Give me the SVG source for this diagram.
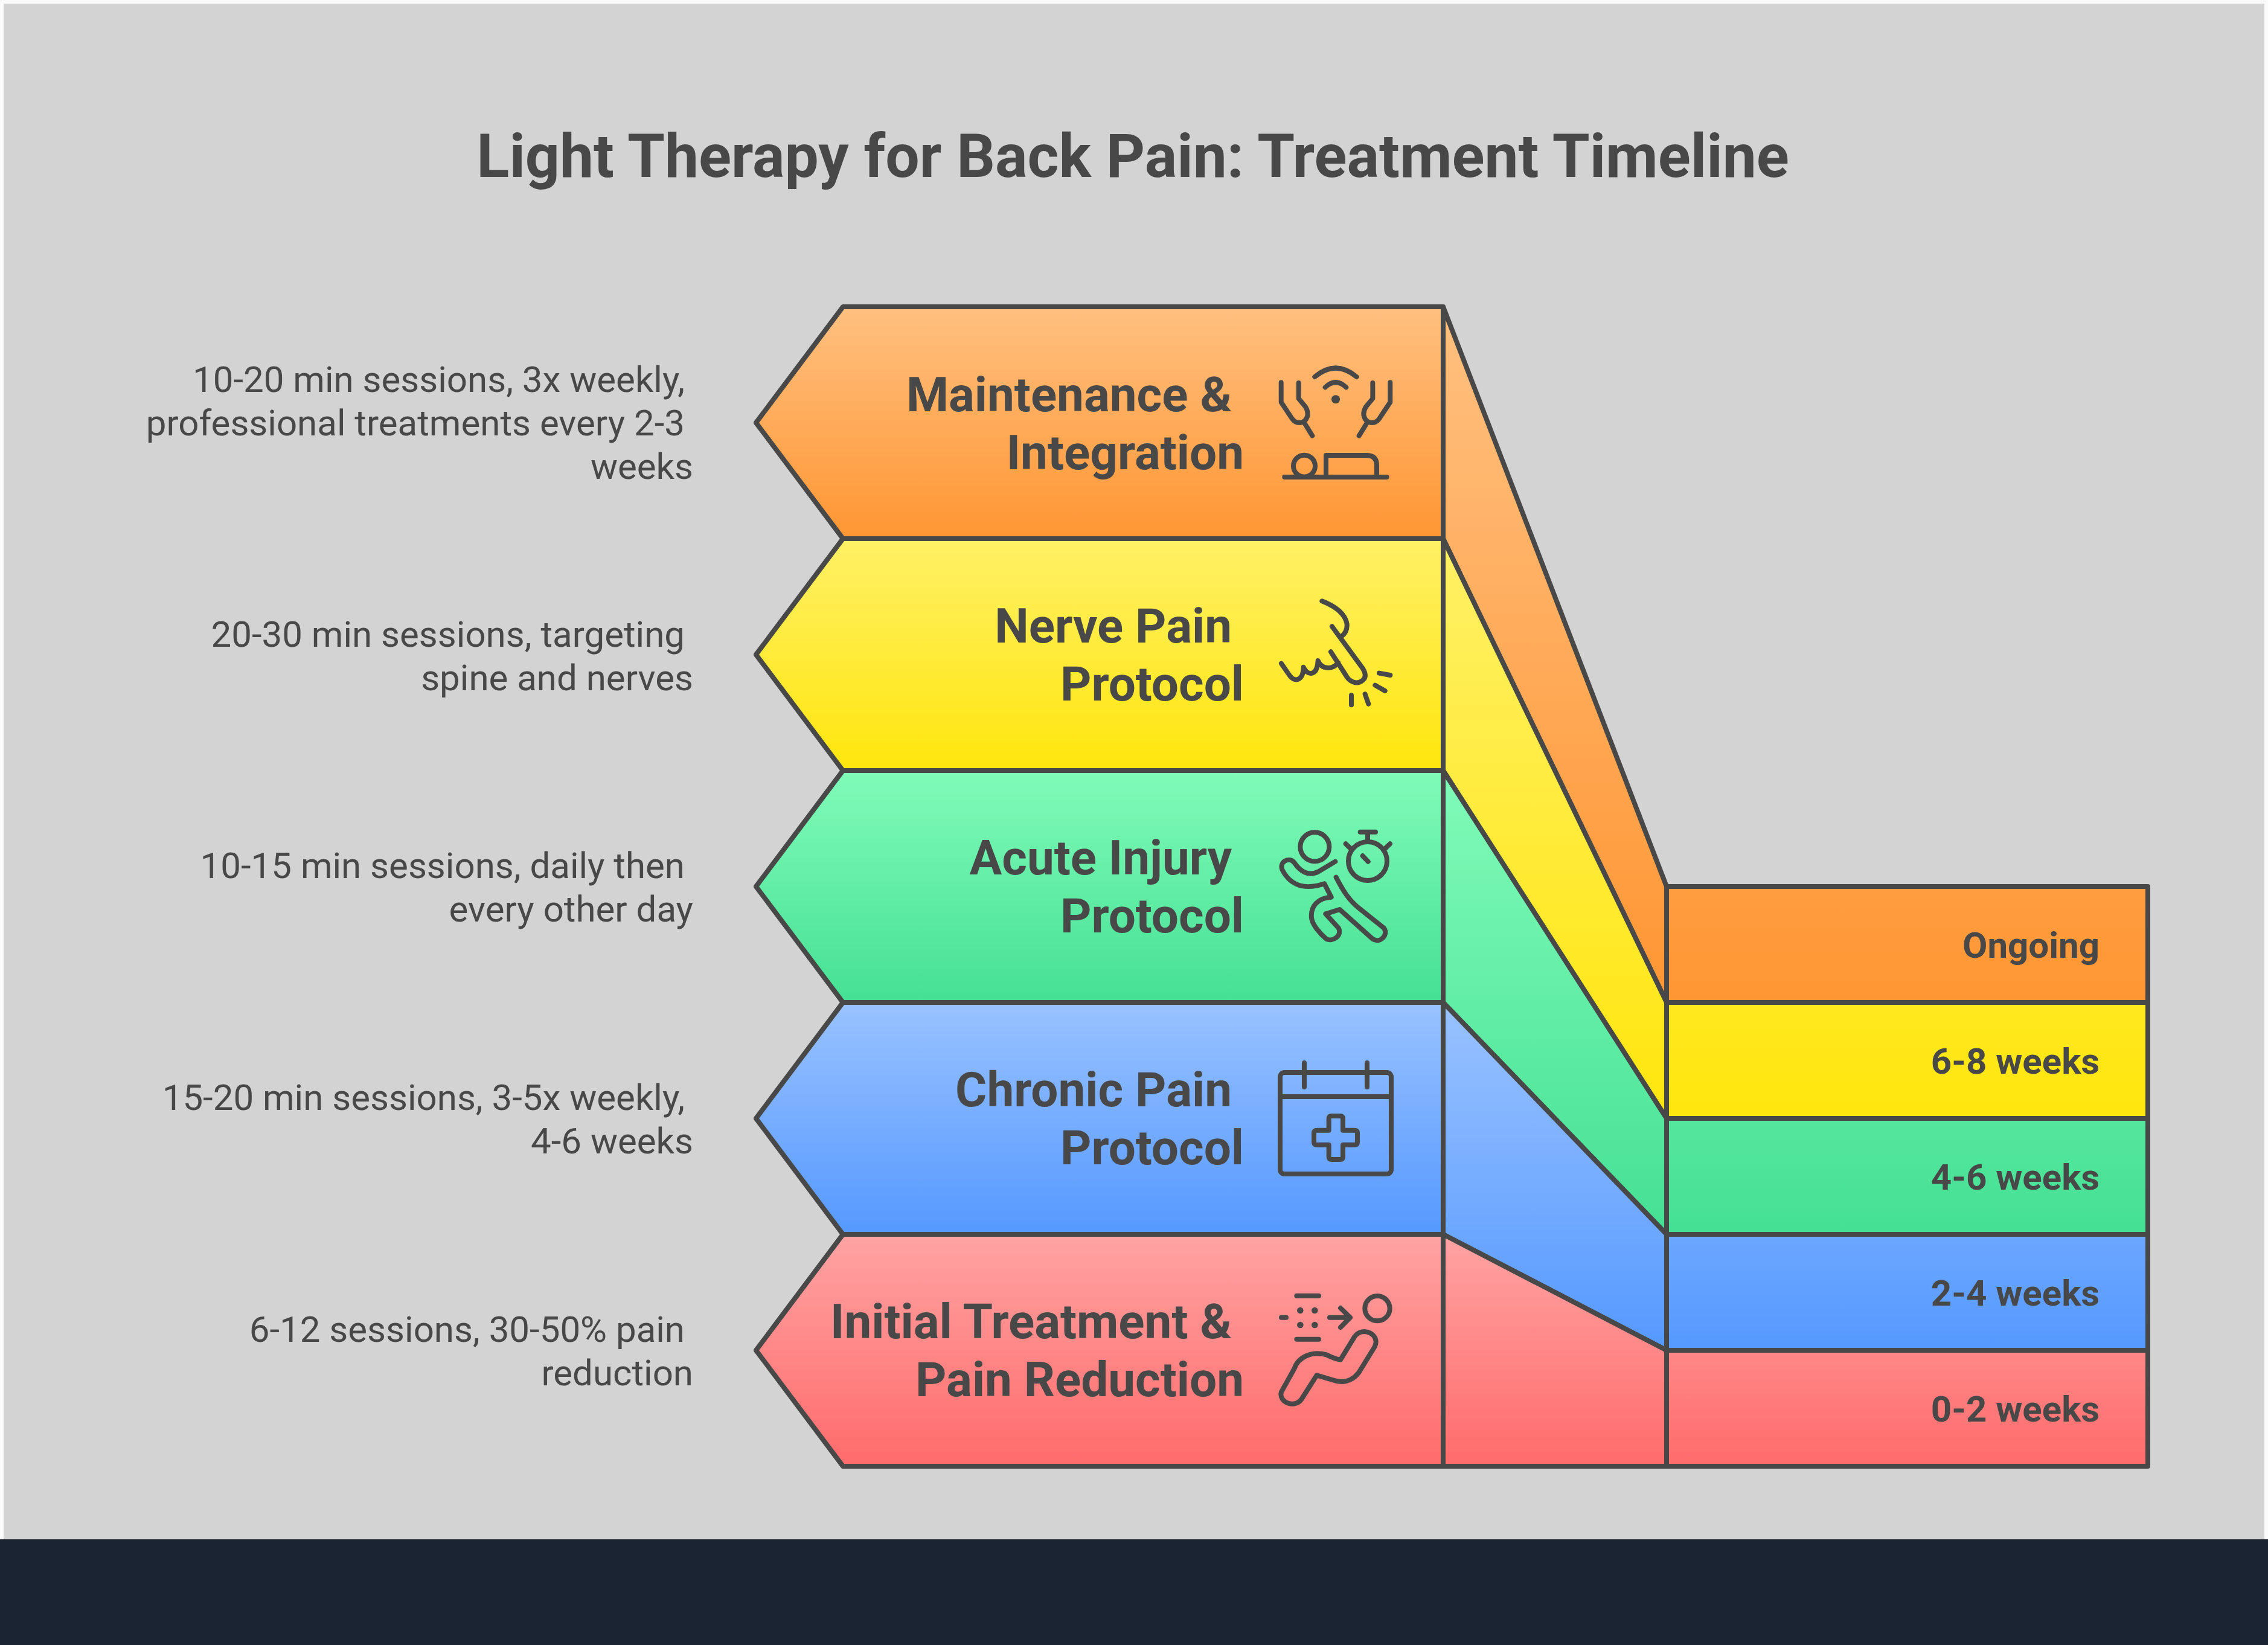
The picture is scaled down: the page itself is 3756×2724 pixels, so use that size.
<svg xmlns="http://www.w3.org/2000/svg" width="3756" height="2724" viewBox="0 0 3756 2724">
<defs>
<style>
.ln{stroke:#484848;stroke-width:8;stroke-linejoin:round;stroke-linecap:round}
.ic{fill:none;stroke:#484848;stroke-width:24;stroke-linecap:round;stroke-linejoin:round}
.dot{fill:#484848}
text{font-family:Roboto,"Liberation Sans",sans-serif;fill:#484848}
.title{font-size:100px;font-weight:700;text-anchor:middle}
.name{font-size:80px;font-weight:700;text-anchor:end}
.desc{font-size:60px;font-weight:400;text-anchor:end}
.step{font-size:60px;font-weight:700;text-anchor:end}
</style>
<linearGradient id="o1" x1="0" y1="0" x2="0" y2="1"><stop offset="0" stop-color="#ffc080"/><stop offset="1" stop-color="#ff9633"/></linearGradient>
<linearGradient id="y1" x1="0" y1="0" x2="0" y2="1"><stop offset="0" stop-color="#fff066"/><stop offset="1" stop-color="#ffe60d"/></linearGradient>
<linearGradient id="g1" x1="0" y1="0" x2="0" y2="1"><stop offset="0" stop-color="#80fbb8"/><stop offset="1" stop-color="#45e094"/></linearGradient>
<linearGradient id="b1" x1="0" y1="0" x2="0" y2="1"><stop offset="0" stop-color="#99c2ff"/><stop offset="1" stop-color="#5599ff"/></linearGradient>
<linearGradient id="r1" x1="0" y1="0" x2="0" y2="1"><stop offset="0" stop-color="#ffa3a3"/><stop offset="1" stop-color="#ff6b6b"/></linearGradient>
<linearGradient id="o2" gradientUnits="userSpaceOnUse" x1="0" y1="508" x2="0" y2="1660"><stop offset="0" stop-color="#ffc080"/><stop offset="1" stop-color="#ff9633"/></linearGradient>
<linearGradient id="y2" gradientUnits="userSpaceOnUse" x1="0" y1="892" x2="0" y2="1852"><stop offset="0" stop-color="#fff066"/><stop offset="1" stop-color="#ffe60d"/></linearGradient>
<linearGradient id="g2" gradientUnits="userSpaceOnUse" x1="0" y1="1276" x2="0" y2="2044"><stop offset="0" stop-color="#80fbb8"/><stop offset="1" stop-color="#45e094"/></linearGradient>
<linearGradient id="b2" gradientUnits="userSpaceOnUse" x1="0" y1="1660" x2="0" y2="2236"><stop offset="0" stop-color="#99c2ff"/><stop offset="1" stop-color="#5599ff"/></linearGradient>
<linearGradient id="r2" gradientUnits="userSpaceOnUse" x1="0" y1="2044" x2="0" y2="2428"><stop offset="0" stop-color="#ffa3a3"/><stop offset="1" stop-color="#ff6b6b"/></linearGradient>
</defs>
<rect width="3756" height="2724" fill="#fbfbfb"/>
<rect x="6" y="6" width="3744" height="2543" fill="#d3d3d3"/>
<rect y="2549" width="3756" height="175" fill="#1a2433"/>
<text class="title" x="1876" y="293">Light Therapy for Back Pain: Treatment Timeline</text>
<g id="connectors">
<path class="ln" fill="url(#o2)" d="M2390 508L2760 1468V1660L2390 892Z"/>
<path class="ln" fill="url(#y2)" d="M2390 892L2760 1660V1852L2390 1276Z"/>
<path class="ln" fill="url(#g2)" d="M2390 1276L2760 1852V2044L2390 1660Z"/>
<path class="ln" fill="url(#b2)" d="M2390 1660L2760 2044V2236L2390 2044Z"/>
<path class="ln" fill="url(#r2)" d="M2390 2044L2760 2236V2428H2390Z"/>
</g>
<g id="node-maintenance">
<path class="ln" fill="url(#o1)" d="M1396 508H2390V892H1396L1252 700Z"/>
<text class="name" x="2040" y="681">Maintenance &amp;</text>
<text class="name" x="2060" y="777">Integration</text>
<text class="desc" x="1134" y="649">10-20 min sessions, 3x weekly,</text>
<text class="desc" x="1134" y="721">professional treatments every 2-3</text>
<text class="desc" x="1148" y="793">weeks</text>
<g transform="translate(2060 560) scale(.3333)" class="ic">
<path d="M185 220V318L238 398C258 428 300 430 315 390C320 370 315 355 305 340L272 300V222M300 420L340 485"/>
<path d="M727 220V318L674 398C654 428 612 430 597 390C592 370 597 355 607 340L640 300V222M612 420L572 485"/>
<path d="M352 192Q456 105 560 192M404 244Q456 195 508 244"/>
<circle class="dot" cx="456" cy="304" r="21" stroke="none"/>
<circle cx="300" cy="635" r="54"/>
<path d="M202 690H710M408 690V582H610Q660 582 660 632V690"/>
</g>
<rect x="2760" y="1468" width="797" height="192" class="ln" fill="url(#o2)"/>
<text class="step" x="3477" y="1586">Ongoing</text>
</g>
<g id="node-nerve">
<path class="ln" fill="url(#y1)" d="M1396 892H2390V1276H1396L1252 1084Z"/>
<text class="name" x="2040" y="1064">Nerve Pain</text>
<text class="name" x="2060" y="1160">Protocol</text>
<text class="desc" x="1134" y="1071">20-30 min sessions, targeting</text>
<text class="desc" x="1148" y="1143">spine and nerves</text>
<g transform="translate(2060 960) scale(.3333)" class="ic">
<path d="M388 106Q500 150 512 220Q515 260 484 282M438 232L590 440Q615 480 590 500C560 525 525 505 510 480L432 358"/>
<path d="M186 416L226 474C250 510 295 505 296 434C310 475 365 485 368 402C385 445 440 450 468 412"/>
<path d="M534 574V622M602 568L619 617M652 524L701 552M672 464L727 474"/>
</g>
<rect x="2760" y="1660" width="797" height="192" class="ln" fill="url(#y2)"/>
<text class="step" x="3477" y="1778">6-8 weeks</text>
</g>
<g id="node-acute">
<path class="ln" fill="url(#g1)" d="M1396 1276H2390V1660H1396L1252 1468Z"/>
<text class="name" x="2040" y="1448">Acute Injury</text>
<text class="name" x="2060" y="1544">Protocol</text>
<text class="desc" x="1134" y="1454">10-15 min sessions, daily then</text>
<text class="desc" x="1148" y="1526">every other day</text>
<g transform="translate(2060 1340) scale(.3333)" class="ic">
<circle cx="352" cy="187" r="72"/>
<circle cx="615" cy="258" r="96"/>
<path d="M578 113H654M615 113V160M506 172L530 195M726 172L702 195M590 232L617 260"/>
<path d="M454 260L370 310C320 335 280 310 250 265C225 235 175 260 190 300C220 360 280 410 400 370L434 437C370 440 330 480 336 540C340 575 380 620 410 645C440 660 490 630 470 590L406 520L476 498L640 645C680 670 720 620 695 590L570 490C520 450 490 400 458 338"/>
</g>
<rect x="2760" y="1852" width="797" height="192" class="ln" fill="url(#g2)"/>
<text class="step" x="3477" y="1970">4-6 weeks</text>
</g>
<g id="node-chronic">
<path class="ln" fill="url(#b1)" d="M1396 1660H2390V2044H1396L1252 1852Z"/>
<text class="name" x="2040" y="1832">Chronic Pain</text>
<text class="name" x="2060" y="1928">Protocol</text>
<text class="desc" x="1134" y="1838">15-20 min sessions, 3-5x weekly,</text>
<text class="desc" x="1148" y="1910">4-6 weeks</text>
<g transform="translate(2060 1730) scale(.3333)" class="ic">
<rect x="180" y="138" width="552" height="504" rx="22"/>
<path d="M180 258H732M300 90V210M612 90V210"/>
<path d="M422 368Q422 354 436 354H478Q492 354 492 368V425H550Q564 425 564 439V483Q564 497 550 497H492V556Q492 570 478 570H436Q422 570 422 556V497H364Q348 497 348 483V439Q348 425 364 425H422Z"/>
</g>
<rect x="2760" y="2044" width="797" height="192" class="ln" fill="url(#b2)"/>
<text class="step" x="3477" y="2162">2-4 weeks</text>
</g>
<g id="node-initial">
<path class="ln" fill="url(#r1)" d="M1396 2044H2390V2428H1396L1252 2236Z"/>
<text class="name" x="2040" y="2216">Initial Treatment &amp;</text>
<text class="name" x="2060" y="2312">Pain Reduction</text>
<text class="desc" x="1134" y="2222">6-12 sessions, 30-50% pain</text>
<text class="desc" x="1148" y="2294">reduction</text>
<g transform="translate(2060 2110) scale(.3333)" class="ic">
<path d="M262 107H372M262 323H372M186 215H210M426 215H528M480 168L528 215L480 264"/>
<circle class="dot" cx="280" cy="180" r="16" stroke="none"/><circle class="dot" cx="352" cy="180" r="16" stroke="none"/><circle class="dot" cx="280" cy="252" r="16" stroke="none"/><circle class="dot" cx="352" cy="252" r="16" stroke="none"/>
<circle cx="663" cy="170" r="62"/>
<path d="M480 425L550 310C590 255 680 300 650 360L570 490C530 540 480 540 440 525L362 502L290 615C260 670 170 640 186 585L250 470C270 410 340 380 410 400Q450 420 480 425Z"/>
</g>
<rect x="2760" y="2236" width="797" height="192" class="ln" fill="url(#r2)"/>
<text class="step" x="3477" y="2354">0-2 weeks</text>
</g>
</svg>
